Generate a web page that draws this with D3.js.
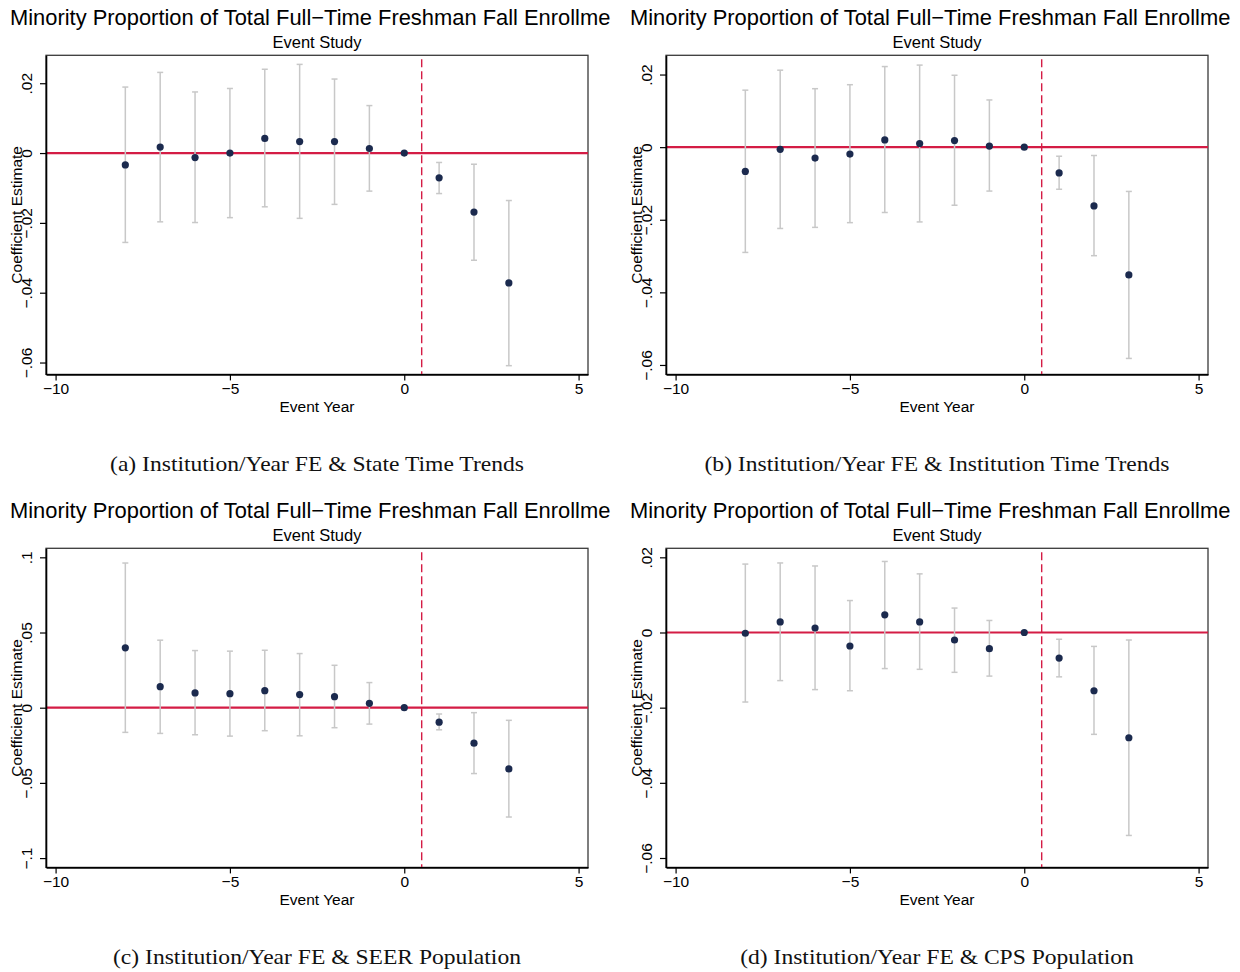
<!DOCTYPE html>
<html>
<head>
<meta charset="utf-8">
<script src="https://cdn.jsdelivr.net/npm/d3@7"></script>
<style>
  html, body { margin: 0; padding: 0; background: #fff; }
  svg { display: block; }
</style>
</head>
<body>
<script>
// ---------------- DATA ----------------
const eventYears = [-8, -7, -6, -5, -4, -3, -2, -1, 0, 1, 2, 3];

const estA = [-0.0034, 0.0017, -0.0013, 0.0000, 0.0042, 0.0033, 0.0033, 0.0013, 0, -0.0071, -0.0169, -0.0372];
const hiA  = [0.0189, 0.0231, 0.0175, 0.0185, 0.0240, 0.0254, 0.0212, 0.0136, null, -0.0027, -0.0032, -0.0136];
const loA  = [-0.0256, -0.0197, -0.0199, -0.0185, -0.0154, -0.0187, -0.0147, -0.0109, null, -0.0116, -0.0307, -0.0609];

const estB = [-0.0067, -0.0006, -0.0030, -0.0019, 0.0020, 0.0010, 0.0018, 0.0003, 0, -0.0071, -0.0162, -0.0352];
const hiB  = [0.0157, 0.0212, 0.0161, 0.0172, 0.0222, 0.0226, 0.0198, 0.0130, null, -0.0025, -0.0023, -0.0122];
const loB  = [-0.0290, -0.0224, -0.0221, -0.0208, -0.0180, -0.0206, -0.0160, -0.0121, null, -0.0116, -0.0299, -0.0582];

const estC = [0.0398, 0.0140, 0.0098, 0.0093, 0.0113, 0.0087, 0.0073, 0.0029, 0, -0.0096, -0.0236, -0.0407];
const hiC  = [0.0962, 0.0449, 0.0380, 0.0376, 0.0382, 0.0360, 0.0282, 0.0167, null, -0.0042, -0.0033, -0.0084];
const loC  = [-0.0164, -0.0171, -0.0180, -0.0189, -0.0153, -0.0187, -0.0133, -0.0109, null, -0.0147, -0.0438, -0.0727];

const estD = [-0.0002, 0.0028, 0.0012, -0.0036, 0.0047, 0.0028, -0.0020, -0.0043, 0, -0.0068, -0.0155, -0.0280];
const hiD  = [0.0182, 0.0185, 0.0177, 0.0085, 0.0189, 0.0156, 0.0065, 0.0032, null, -0.0018, -0.0037, -0.0020];
const loD  = [-0.0185, -0.0128, -0.0152, -0.0155, -0.0096, -0.0098, -0.0106, -0.0116, null, -0.0118, -0.0271, -0.0540];

const xTicks = [-10, -5, 0, 5];
const xTickLabels = ["\u221210", "\u22125", "0", "5"];
const yTicksSmall = [-0.06, -0.04, -0.02, 0, 0.02];
const yTickLabelsSmall = ["\u2212.06", "\u2212.04", "\u2212.02", "0", ".02"];
const yTicksLarge = [-0.1, -0.05, 0, 0.05, 0.1];
const yTickLabelsLarge = ["\u2212.1", "\u2212.05", "0", ".05", ".1"];

const yDomainA = [-0.0634, 0.0280];
const yDomainB = [-0.0626, 0.0253];
const yDomainC = [-0.1062, 0.1060];
const yDomainD = [-0.0625, 0.0224];
const xDomain = [-10.275, 5.27];
const treatmentLine = 0.5;

const chartTitle = "Minority Proportion of Total Full\u2212Time Freshman Fall Enrollme";
const chartSubtitle = "Event Study";
const xAxisTitle = "Event Year";
const yAxisTitle = "Coefficient Estimate";
const captions = [
  "(a) Institution/Year FE & State Time Trends",
  "(b) Institution/Year FE & Institution Time Trends",
  "(c) Institution/Year FE & SEER Population",
  "(d) Institution/Year FE & CPS Population"
];

// ---------------- LAYOUT ----------------
const W = 1240, H = 972;
const sans = "'Liberation Sans', Arial, Helvetica, sans-serif";
const serif = "'Liberation Serif', 'DejaVu Serif', serif";
const colPoint = "#1b2a4e";
const colCI = "#c8c8c8";
const colRed = "#d41c45";

const panels = [
  {ox: 0,   oy: 0,   est: estA, lo: loA, hi: hiA, dom: yDomainA, ticks: yTicksSmall, tickLabels: yTickLabelsSmall, caption: captions[0]},
  {ox: 620, oy: 0,   est: estB, lo: loB, hi: hiB, dom: yDomainB, ticks: yTicksSmall, tickLabels: yTickLabelsSmall, caption: captions[1]},
  {ox: 0,   oy: 493, est: estC, lo: loC, hi: hiC, dom: yDomainC, ticks: yTicksLarge, tickLabels: yTickLabelsLarge, caption: captions[2]},
  {ox: 620, oy: 493, est: estD, lo: loD, hi: hiD, dom: yDomainD, ticks: yTicksSmall, tickLabels: yTickLabelsSmall, caption: captions[3]}
];

const frame = {left: 46, right: 588, top: 55.3, bottom: 374.4};

const svg = d3.select("body").append("svg")
  .attr("width", W).attr("height", H)
  .attr("viewBox", `0 0 ${W} ${H}`);

svg.append("rect").attr("width", W).attr("height", H).attr("fill", "#fff");

panels.forEach((p, pi) => {
  const g = svg.append("g").attr("transform", `translate(${p.ox},${p.oy})`);
  const clipId = "clip" + pi;
  g.append("clipPath").attr("id", clipId)
    .append("rect").attr("x", 0).attr("y", 0).attr("width", 620).attr("height", 500);

  const x = d3.scaleLinear().domain(xDomain).range([frame.left, frame.right]);
  const y = d3.scaleLinear().domain(p.dom).range([frame.bottom, frame.top]);

  // titles
  g.append("text")
    .attr("clip-path", `url(#${clipId})`)
    .attr("x", 10).attr("y", 25)
    .attr("font-family", sans).attr("font-size", 21.9)
    .attr("fill", "#000")
    .text(chartTitle);

  g.append("text")
    .attr("x", (frame.left + frame.right) / 2).attr("y", 47.5)
    .attr("text-anchor", "middle")
    .attr("font-family", sans).attr("font-size", 16.5)
    .attr("fill", "#000")
    .text(chartSubtitle);

  // frame
  g.append("rect")
    .attr("x", frame.left).attr("y", frame.top)
    .attr("width", frame.right - frame.left).attr("height", frame.bottom - frame.top)
    .attr("fill", "none").attr("stroke", "#3a3a3a").attr("stroke-width", 1.3);

  // zero line
  g.append("line")
    .attr("x1", frame.left).attr("x2", frame.right)
    .attr("y1", y(0)).attr("y2", y(0))
    .attr("stroke", colRed).attr("stroke-width", 2.2);

  // treatment dashed line
  g.append("line")
    .attr("x1", x(treatmentLine)).attr("x2", x(treatmentLine))
    .attr("y1", frame.top + 4).attr("y2", frame.bottom)
    .attr("stroke", colRed).attr("stroke-width", 1.4)
    .attr("stroke-dasharray", "8,4");

  // data
  const rows = eventYears.map((yr, i) => ({yr, est: p.est[i], lo: p.lo[i], hi: p.hi[i]}));
  const ciRows = rows.filter(r => r.lo !== null && r.hi !== null);

  const ci = g.append("g");
  ci.selectAll("line.ci").data(ciRows).join("line")
    .attr("class", "ci")
    .attr("x1", d => x(d.yr)).attr("x2", d => x(d.yr))
    .attr("y1", d => y(d.hi)).attr("y2", d => y(d.lo))
    .attr("stroke", colCI).attr("stroke-width", 1.5);
  ci.selectAll("line.capHi").data(ciRows).join("line")
    .attr("class", "capHi")
    .attr("x1", d => x(d.yr) - 3).attr("x2", d => x(d.yr) + 3)
    .attr("y1", d => y(d.hi)).attr("y2", d => y(d.hi))
    .attr("stroke", colCI).attr("stroke-width", 1.5);
  ci.selectAll("line.capLo").data(ciRows).join("line")
    .attr("class", "capLo")
    .attr("x1", d => x(d.yr) - 3).attr("x2", d => x(d.yr) + 3)
    .attr("y1", d => y(d.lo)).attr("y2", d => y(d.lo))
    .attr("stroke", colCI).attr("stroke-width", 1.5);

  g.append("g").selectAll("circle").data(rows).join("circle")
    .attr("cx", d => x(d.yr)).attr("cy", d => y(d.est))
    .attr("r", 3.6).attr("fill", colPoint);

  // axes
  const xAxis = d3.axisBottom(x).tickValues(xTicks)
    .tickFormat((d, i) => xTickLabels[i]).tickSize(6).tickSizeOuter(0);
  const gx = g.append("g").attr("transform", `translate(0,${frame.bottom})`).call(xAxis);
  gx.select(".domain").attr("stroke", "#000").attr("stroke-width", 1.6);
  gx.selectAll(".tick line").attr("stroke", "#000").attr("stroke-width", 1.2);
  gx.selectAll(".tick text")
    .attr("font-family", sans).attr("font-size", 15.5).attr("fill", "#000")
    .attr("dy", "0.71em").attr("y", 8.5);

  const yAxis = d3.axisLeft(y).tickValues(p.ticks)
    .tickFormat((d, i) => p.tickLabels[i]).tickSize(6).tickSizeOuter(0);
  const gy = g.append("g").attr("transform", `translate(${frame.left},0)`).call(yAxis);
  gy.select(".domain").attr("stroke", "#000").attr("stroke-width", 1.6);
  gy.selectAll(".tick line").attr("stroke", "#000").attr("stroke-width", 1.2);
  gy.selectAll(".tick text")
    .attr("font-family", sans).attr("font-size", 15.5).attr("fill", "#000")
    .attr("x", null).attr("dy", null)
    .attr("text-anchor", "middle")
    .attr("transform", "translate(-14,0) rotate(-90)")
    .attr("y", 0);

  // axis titles
  g.append("text")
    .attr("x", (frame.left + frame.right) / 2).attr("y", 412)
    .attr("text-anchor", "middle")
    .attr("font-family", sans).attr("font-size", 15.5).attr("fill", "#000")
    .text(xAxisTitle);

  g.append("text")
    .attr("transform", `translate(22,${(frame.top + frame.bottom) / 2}) rotate(-90)`)
    .attr("text-anchor", "middle")
    .attr("font-family", sans).attr("font-size", 15.5).attr("fill", "#000")
    .text(yAxisTitle);

  // caption (serif, slightly widened to mimic Computer Modern)
  g.append("text")
    .attr("transform", `translate(${(frame.left + frame.right) / 2},471) scale(1.15,1)`)
    .attr("text-anchor", "middle")
    .attr("font-family", serif).attr("font-size", 20.5).attr("fill", "#111")
    .text(p.caption);
});
</script>
</body>
</html>
